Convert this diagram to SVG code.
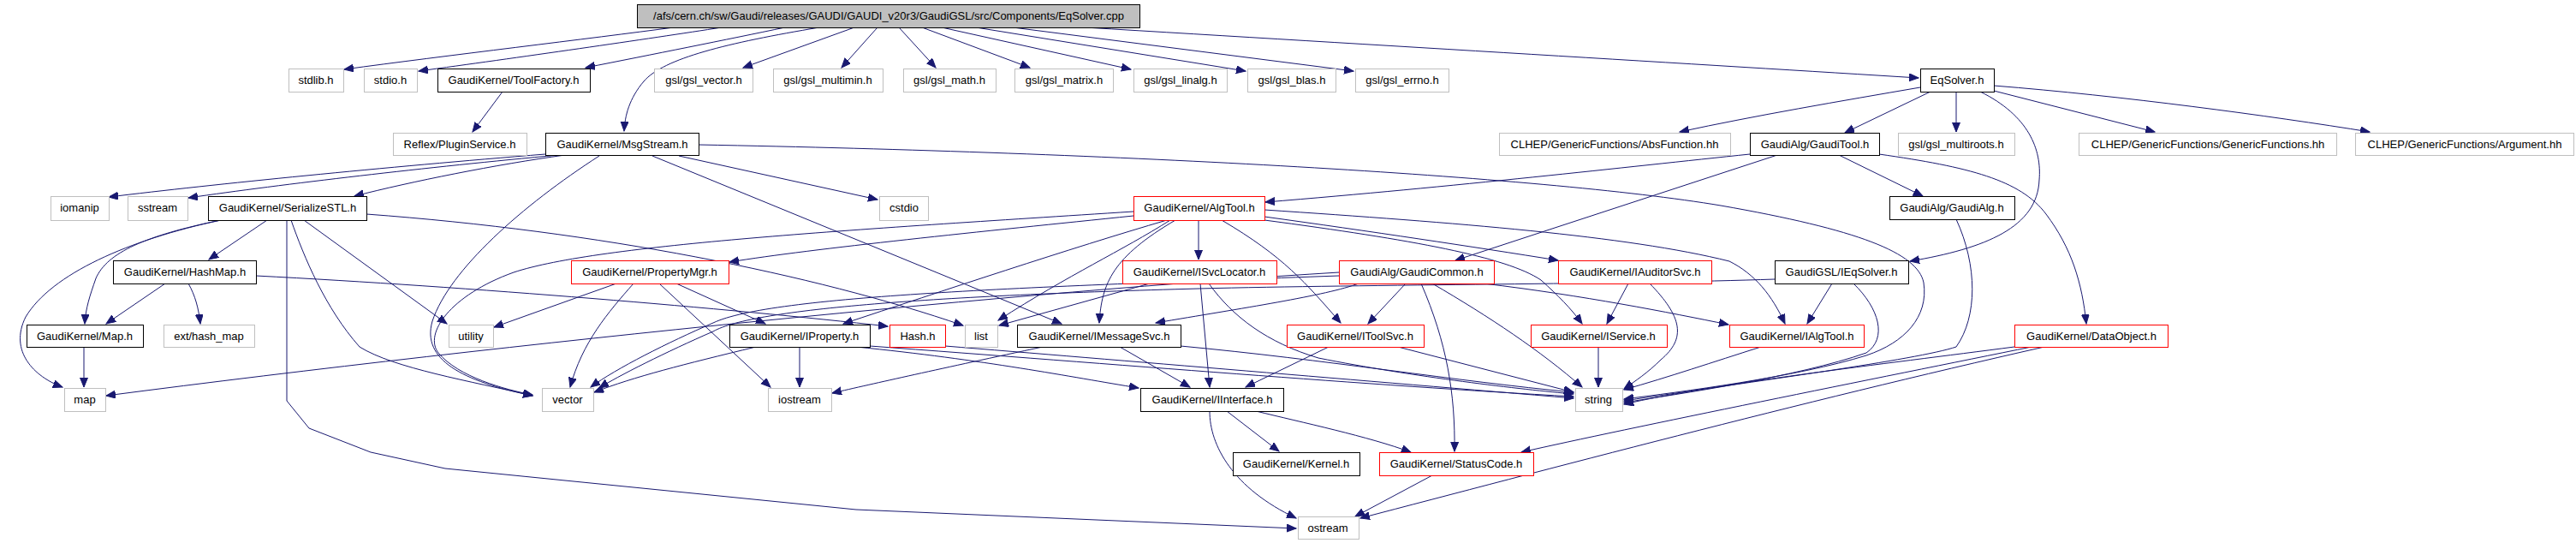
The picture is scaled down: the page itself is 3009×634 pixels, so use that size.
<svg xmlns="http://www.w3.org/2000/svg" width="3009" height="634" viewBox="0 0 3009 634">
<defs>
<style>
rect{fill:#fff;stroke:#000;stroke-width:1}
rect.g{stroke:#bfbfbf}
rect.r{stroke:#ff0000}
rect.root{fill:#bfbfbf}
text{font-family:"Liberation Sans",Arial,sans-serif;font-size:13px;fill:#000;text-anchor:middle}
#edges path{fill:none;stroke:#191970;stroke-width:1;marker-end:url(#a)}
</style>
<marker id="a" markerWidth="13" markerHeight="10" refX="11" refY="4.5" orient="auto" markerUnits="userSpaceOnUse"><path d="M0,0 L11,4.5 L0,9 z" fill="#191970" stroke="#191970"/></marker>
</defs>
<rect x="0" y="0" width="3009" height="634" style="fill:#fff;stroke:none"/>
<g id="edges">
<path d="M787,32 C690,45 520,65 402,81"/>
<path d="M843,32 C760,45 600,68 489,83"/>
<path d="M917,32 C850,46 760,64 684,79"/>
<path d="M957,32 C850,50 775,68 752,95 C735,115 730,135 729,153"/>
<path d="M998,32 L868,79"/>
<path d="M1025,32 L983,79"/>
<path d="M1050,32 L1093,79"/>
<path d="M1077,32 L1203,79"/>
<path d="M1100,32 L1321,81"/>
<path d="M1140,32 L1455,83"/>
<path d="M1183,32 L1581,83"/>
<path d="M1267,32 C1600,52 2000,76 2241,91"/>
<path d="M587,107 L552,154"/>
<path d="M637,180 C450,195 250,215 127,230"/>
<path d="M653,181 C500,195 330,215 220,231"/>
<path d="M660,181 C580,192 480,212 414,229"/>
<path d="M700,182 C610,240 525,315 505,375 C492,420 540,445 622,462"/>
<path d="M793,182 L1025,233"/>
<path d="M762,182 L1240,378"/>
<path d="M816,169 C1300,178 1800,205 2010,240 C2170,268 2240,295 2247,330 C2253,370 2225,400 2180,415 C2100,440 1960,458 1897,466"/>
<path d="M312,257 L244,303"/>
<path d="M258,257 C170,275 125,295 112,325 C105,345 100,360 99,378"/>
<path d="M258,257 C150,280 60,320 30,370 C10,410 40,440 73,452"/>
<path d="M335,257 L335,468 L361,500 L433,528 L520,547 L1000,595 L1514,617"/>
<path d="M340,257 C355,300 380,360 420,405 C460,430 550,445 622,462"/>
<path d="M355,257 L522,378"/>
<path d="M428,250 C700,270 950,320 1125,380"/>
<path d="M193,331 L124,378"/>
<path d="M220,331 C228,345 232,360 234,378"/>
<path d="M299,322 C550,335 850,360 1037,381"/>
<path d="M98,406 L98,452"/>
<path d="M720,331 L577,382"/>
<path d="M740,331 C710,365 680,400 666,452"/>
<path d="M770,331 L900,452"/>
<path d="M790,331 L894,378"/>
<path d="M1400,257 L1400,303"/>
<path d="M1324,252 C1150,270 950,290 852,306"/>
<path d="M1324,247 C1000,268 700,285 600,318 C525,345 495,390 512,412 C535,440 590,455 622,461"/>
<path d="M1363,257 C1250,290 1100,340 985,378"/>
<path d="M1367,257 C1310,293 1250,320 1166,374"/>
<path d="M1373,257 C1300,300 1287,330 1284,377"/>
<path d="M1427,257 C1500,300 1525,330 1566,377"/>
<path d="M1477,253 C1600,270 1720,288 1820,304"/>
<path d="M1477,257 C1650,280 1760,300 1800,327 C1820,345 1835,360 1848,378"/>
<path d="M1477,245 C1700,260 1900,275 2020,305 C2050,320 2070,345 2085,378"/>
<path d="M1402,331 L1413,452"/>
<path d="M1343,331 L1167,380"/>
<path d="M1412,331 C1440,370 1480,400 1540,418 C1650,440 1780,455 1838,460"/>
<path d="M1642,331 L1598,378"/>
<path d="M1660,331 C1690,400 1700,460 1699,527"/>
<path d="M1673,331 C1740,370 1800,410 1848,452"/>
<path d="M1733,331 C1850,345 1950,365 2019,379"/>
<path d="M1587,331 C1550,345 1450,360 1350,377"/>
<path d="M1564,318 C1200,340 600,400 124,462"/>
<path d="M1564,322 C1200,335 900,345 833,377 C780,400 720,430 690,452"/>
<path d="M2140,331 L2111,378"/>
<path d="M2165,331 C2195,360 2205,395 2180,412 C2100,440 1960,460 1897,470"/>
<path d="M2073,326 C1900,332 1600,332 1400,337 C1100,345 880,360 833,387 C780,410 720,440 700,453"/>
<path d="M2044,180 C1900,195 1700,218 1478,236"/>
<path d="M2076,181 L1700,304"/>
<path d="M2148,181 L2246,229"/>
<path d="M2195,180 C2300,195 2360,210 2390,250 C2420,290 2432,330 2437,378"/>
<path d="M2285,256 C2310,310 2310,370 2285,405 C2240,420 2050,445 1897,468"/>
<path d="M2243,102 C2150,118 2050,135 1962,154"/>
<path d="M2255,107 L2155,155"/>
<path d="M2285,107 L2285,154"/>
<path d="M2329,106 L2517,154"/>
<path d="M2329,100 C2480,112 2650,135 2768,154"/>
<path d="M2313,107 C2370,135 2385,175 2382,210 C2380,265 2320,290 2231,305"/>
<path d="M2353,405 C2200,425 2000,448 1897,472"/>
<path d="M2373,405 C2200,440 1900,500 1777,528"/>
<path d="M2388,405 C2100,470 1800,550 1589,605"/>
<path d="M2057,405 C2000,423 1950,440 1897,455"/>
<path d="M1902,331 L1877,378"/>
<path d="M1927,331 C1965,370 1970,395 1940,420 C1925,435 1910,445 1897,454"/>
<path d="M1867,405 L1867,452"/>
<path d="M883,405 C800,425 740,440 694,458"/>
<path d="M934,405 L934,452"/>
<path d="M1000,405 C1150,420 1250,440 1330,453"/>
<path d="M1016,404 C1300,425 1600,450 1838,463"/>
<path d="M1104,404 C1300,420 1600,445 1838,465"/>
<path d="M1218,405 C1100,430 1020,448 972,459"/>
<path d="M1308,405 L1390,452"/>
<path d="M1379,404 C1550,420 1700,445 1838,458"/>
<path d="M1552,405 L1455,452"/>
<path d="M1633,405 L1838,458"/>
<path d="M1433,480 L1494,527"/>
<path d="M1467,480 C1520,493 1600,510 1648,528"/>
<path d="M1413,480 C1413,520 1440,570 1514,605"/>
<path d="M1673,555 L1583,603"/>
</g>
<g id="root"><rect class="root" x="744.5" y="5.5" width="587" height="27"/><text x="1038" y="23">/afs/cern.ch/sw/Gaudi/releases/GAUDI/GAUDI_v20r3/GaudiGSL/src/Components/EqSolver.cpp</text></g>
<g id="stdlib"><rect class="g" x="337.5" y="80.5" width="64" height="27"/><text x="369" y="98">stdlib.h</text></g>
<g id="stdio"><rect class="g" x="425.5" y="80.5" width="62" height="27"/><text x="456" y="98">stdio.h</text></g>
<g id="toolfactory"><rect x="511.5" y="80.5" width="178" height="27"/><text x="600" y="98">GaudiKernel/ToolFactory.h</text></g>
<g id="gslvector"><rect class="g" x="764.5" y="80.5" width="115" height="27"/><text x="822" y="98">gsl/gsl_vector.h</text></g>
<g id="gslmultimin"><rect class="g" x="903.5" y="80.5" width="128" height="27"/><text x="967" y="98">gsl/gsl_multimin.h</text></g>
<g id="gslmath"><rect class="g" x="1055.5" y="80.5" width="108" height="27"/><text x="1109" y="98">gsl/gsl_math.h</text></g>
<g id="gslmatrix"><rect class="g" x="1185.5" y="80.5" width="115" height="27"/><text x="1243" y="98">gsl/gsl_matrix.h</text></g>
<g id="gsllinalg"><rect class="g" x="1324.5" y="80.5" width="109" height="27"/><text x="1379" y="98">gsl/gsl_linalg.h</text></g>
<g id="gslblas"><rect class="g" x="1457.5" y="80.5" width="103" height="27"/><text x="1509" y="98">gsl/gsl_blas.h</text></g>
<g id="gslerrno"><rect class="g" x="1583.5" y="80.5" width="109" height="27"/><text x="1638" y="98">gsl/gsl_errno.h</text></g>
<g id="eqsolver"><rect x="2243.5" y="80.5" width="86" height="27"/><text x="2286" y="98">EqSolver.h</text></g>
<g id="pluginservice"><rect class="g" x="459.5" y="155.5" width="156" height="26"/><text x="537" y="173">Reflex/PluginService.h</text></g>
<g id="msgstream"><rect x="637.5" y="155.5" width="179" height="26"/><text x="727" y="173">GaudiKernel/MsgStream.h</text></g>
<g id="absfunction"><rect class="g" x="1751.5" y="155.5" width="270" height="26"/><text x="1886" y="173">CLHEP/GenericFunctions/AbsFunction.hh</text></g>
<g id="gauditool"><rect x="2044.5" y="155.5" width="151" height="26"/><text x="2120" y="173">GaudiAlg/GaudiTool.h</text></g>
<g id="multiroots"><rect class="g" x="2217.5" y="155.5" width="136" height="26"/><text x="2285" y="173">gsl/gsl_multiroots.h</text></g>
<g id="genericfunctions"><rect class="g" x="2428.5" y="155.5" width="301" height="26"/><text x="2579" y="173">CLHEP/GenericFunctions/GenericFunctions.hh</text></g>
<g id="argument"><rect class="g" x="2751.5" y="155.5" width="255" height="26"/><text x="2879" y="173">CLHEP/GenericFunctions/Argument.hh</text></g>
<g id="iomanip"><rect class="g" x="59.5" y="229.5" width="68" height="28"/><text x="93" y="247">iomanip</text></g>
<g id="sstream"><rect class="g" x="149.5" y="229.5" width="70" height="28"/><text x="184" y="247">sstream</text></g>
<g id="serializestl"><rect x="243.5" y="229.5" width="185" height="28"/><text x="336" y="247">GaudiKernel/SerializeSTL.h</text></g>
<g id="cstdio"><rect class="g" x="1027.5" y="229.5" width="57" height="28"/><text x="1056" y="247">cstdio</text></g>
<g id="algtool"><rect class="r" x="1324.5" y="229.5" width="153" height="28"/><text x="1401" y="247">GaudiKernel/AlgTool.h</text></g>
<g id="gaudialg"><rect x="2207.5" y="229.5" width="146" height="27"/><text x="2280" y="247">GaudiAlg/GaudiAlg.h</text></g>
<g id="hashmap"><rect x="132.5" y="304.5" width="167" height="27"/><text x="216" y="322">GaudiKernel/HashMap.h</text></g>
<g id="propertymgr"><rect class="r" x="667.5" y="304.5" width="184" height="27"/><text x="759" y="322">GaudiKernel/PropertyMgr.h</text></g>
<g id="isvclocator"><rect class="r" x="1311.5" y="304.5" width="180" height="27"/><text x="1401" y="322">GaudiKernel/ISvcLocator.h</text></g>
<g id="gaudicommon"><rect class="r" x="1564.5" y="304.5" width="181" height="27"/><text x="1655" y="322">GaudiAlg/GaudiCommon.h</text></g>
<g id="iauditorsvc"><rect class="r" x="1820.5" y="304.5" width="179" height="27"/><text x="1910" y="322">GaudiKernel/IAuditorSvc.h</text></g>
<g id="ieqsolver"><rect x="2073.5" y="304.5" width="156" height="27"/><text x="2151" y="322">GaudiGSL/IEqSolver.h</text></g>
<g id="map_h"><rect x="31.5" y="379.5" width="136" height="26"/><text x="99" y="397">GaudiKernel/Map.h</text></g>
<g id="hash_map"><rect class="g" x="191.5" y="379.5" width="106" height="26"/><text x="244" y="397">ext/hash_map</text></g>
<g id="utility"><rect class="g" x="524.5" y="379.5" width="52" height="26"/><text x="550" y="397">utility</text></g>
<g id="iproperty"><rect x="852.5" y="379.5" width="164" height="26"/><text x="934" y="397">GaudiKernel/IProperty.h</text></g>
<g id="hash_h"><rect class="r" x="1039.5" y="379.5" width="65" height="26"/><text x="1072" y="397">Hash.h</text></g>
<g id="list"><rect class="g" x="1127.5" y="379.5" width="38" height="26"/><text x="1146" y="397">list</text></g>
<g id="imessagesvc"><rect x="1188.5" y="379.5" width="191" height="26"/><text x="1284" y="397">GaudiKernel/IMessageSvc.h</text></g>
<g id="itoolsvc"><rect class="r" x="1503.5" y="379.5" width="160" height="26"/><text x="1583" y="397">GaudiKernel/IToolSvc.h</text></g>
<g id="iservice"><rect class="r" x="1788.5" y="379.5" width="159" height="26"/><text x="1867" y="397">GaudiKernel/IService.h</text></g>
<g id="ialgtool"><rect class="r" x="2020.5" y="379.5" width="157" height="26"/><text x="2099" y="397">GaudiKernel/IAlgTool.h</text></g>
<g id="dataobject"><rect class="r" x="2353.5" y="379.5" width="179" height="26"/><text x="2443" y="397">GaudiKernel/DataObject.h</text></g>
<g id="map"><rect class="g" x="75.5" y="453.5" width="48" height="27"/><text x="99" y="471">map</text></g>
<g id="vector"><rect class="g" x="633.5" y="453.5" width="60" height="27"/><text x="663" y="471">vector</text></g>
<g id="iostream"><rect class="g" x="897.5" y="453.5" width="74" height="27"/><text x="934" y="471">iostream</text></g>
<g id="iinterface"><rect x="1332.5" y="453.5" width="167" height="27"/><text x="1416" y="471">GaudiKernel/IInterface.h</text></g>
<g id="string"><rect class="g" x="1840.5" y="453.5" width="55" height="27"/><text x="1867" y="471">string</text></g>
<g id="kernel"><rect x="1440.5" y="528.5" width="148" height="27"/><text x="1514" y="546">GaudiKernel/Kernel.h</text></g>
<g id="statuscode"><rect class="r" x="1611.5" y="528.5" width="180" height="27"/><text x="1701" y="546">GaudiKernel/StatusCode.h</text></g>
<g id="ostream"><rect class="g" x="1516.5" y="603.5" width="71" height="26"/><text x="1551" y="621">ostream</text></g>
</svg>
